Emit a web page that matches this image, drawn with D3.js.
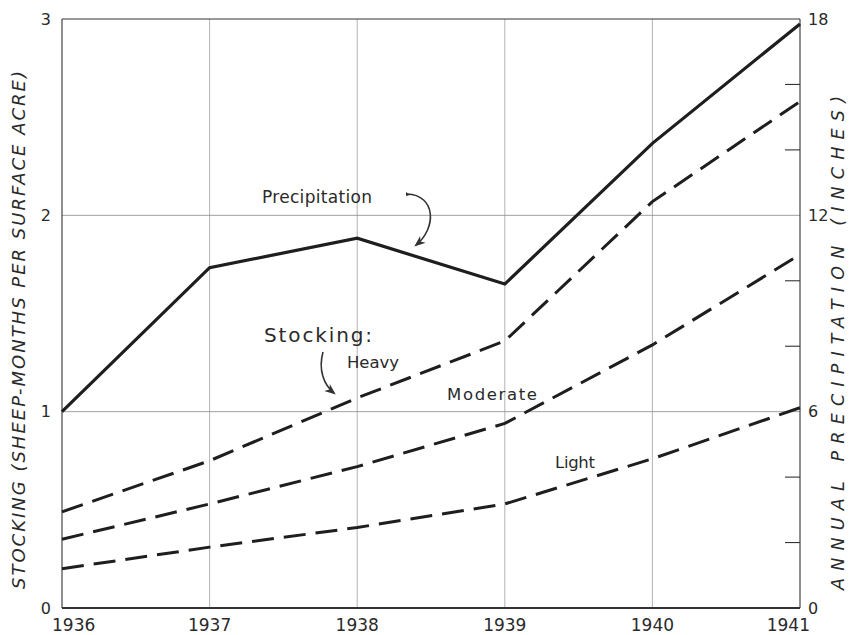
<!DOCTYPE html>
<html>
<head>
<meta charset="utf-8">
<script src="https://cdn.jsdelivr.net/npm/d3@7"></script>
<style>
  html, body { margin: 0; padding: 0; background: #fff; }
  svg text { font-family: "DejaVu Sans", "Open Sans", sans-serif; fill: #2a2a2a; }
</style>
</head>
<body>
<svg id="chart" width="850" height="635"></svg>
<script>
// ---- data ----
const years = [1936, 1937, 1938, 1939, 1940, 1941];
const precipitation = [6.0, 10.4, 11.3, 9.9, 14.2, 17.85];   // inches (right axis)
const heavy    = [0.49, 0.75, 1.07, 1.36, 2.07, 2.58];        // sheep-months per surface acre
const moderate = [0.35, 0.53, 0.72, 0.94, 1.34, 1.80];
const light    = [0.20, 0.31, 0.41, 0.53, 0.76, 1.02];
const leftTicks = [0, 1, 2, 3];
const rightLabelTicks = [0, 6, 12, 18];
const rightMinorTicks = [2, 4, 8, 10, 14, 16];

const svg = d3.select("#chart");
const m = { left: 62, right: 50, top: 19, bottom: 27 };
const W = 850, H = 635;

const x = d3.scaleLinear().domain([1936, 1941]).range([m.left, W - m.right]);
const yL = d3.scaleLinear().domain([0, 3]).range([H - m.bottom, m.top]);
const yR = d3.scaleLinear().domain([0, 18]).range([H - m.bottom, m.top]);

// gridlines
const grid = svg.append("g").attr("stroke", "#a0a0a0").attr("stroke-width", 0.8);
years.slice(1, -1).forEach(yr => {
  grid.append("line").attr("x1", x(yr)).attr("x2", x(yr))
    .attr("y1", yL(3)).attr("y2", yL(0));
});
[1, 2].forEach(v => {
  grid.append("line").attr("x1", x(1936)).attr("x2", x(1941))
    .attr("y1", yL(v)).attr("y2", yL(v)).attr("stroke", "#888");
});

// frame
const frame = svg.append("g").attr("stroke", "#333").attr("fill", "none");
frame.append("line").attr("x1", x(1936)).attr("x2", x(1941)).attr("y1", yL(3)).attr("y2", yL(3)).attr("stroke-width", 1.1);
frame.append("line").attr("x1", x(1936)).attr("x2", x(1941)).attr("y1", yL(0)).attr("y2", yL(0)).attr("stroke-width", 2);
frame.append("line").attr("x1", x(1936)).attr("x2", x(1936)).attr("y1", yL(3)).attr("y2", yL(0)).attr("stroke-width", 1.1);
frame.append("line").attr("x1", x(1941)).attr("x2", x(1941)).attr("y1", yL(3)).attr("y2", yL(0)).attr("stroke-width", 1.1);

// right minor ticks (inside)
rightMinorTicks.forEach(v => {
  frame.append("line").attr("x1", x(1941) - 15).attr("x2", x(1941))
    .attr("y1", yR(v)).attr("y2", yR(v)).attr("stroke-width", 1.1);
});

// tick labels
const tl = svg.append("g").style("font-size", "16px");
leftTicks.forEach(v => {
  tl.append("text").attr("x", x(1936) - 11).attr("y", yL(v)).attr("dy", "0.35em")
    .attr("text-anchor", "end").text(v);
});
rightLabelTicks.forEach(v => {
  tl.append("text").attr("x", x(1941) + 8).attr("y", yR(v)).attr("dy", "0.35em")
    .attr("text-anchor", "start").text(v);
});
years.forEach((yr, i) => {
  tl.append("text").attr("x", x(yr)).attr("y", H - 4)
    .attr("text-anchor", i === 0 ? "start" : (i === years.length - 1 ? "end" : "middle"))
    .attr("dx", i === 0 ? -10 : (i === years.length - 1 ? 10 : 0))
    .style("font-size", "17px")
    .text(yr);
});

// axis titles
svg.append("text")
  .attr("transform", `translate(19,330) rotate(-90)`)
  .attr("text-anchor", "middle").attr("dy", "0.35em")
  .attr("textLength", 518).attr("lengthAdjust", "spacing")
  .style("font-size", "18px").style("font-style", "italic")
  .text("STOCKING  (SHEEP-MONTHS PER SURFACE ACRE)");
svg.append("text")
  .attr("transform", `translate(838,343) rotate(-90)`)
  .attr("text-anchor", "middle").attr("dy", "0.35em")
  .attr("textLength", 494).attr("lengthAdjust", "spacing")
  .style("font-size", "17.5px").style("font-style", "italic")
  .text("ANNUAL  PRECIPITATION  (INCHES)");

// lines
const lineL = d3.line().x((d, i) => x(years[i])).y(d => yL(d));
const lineR = d3.line().x((d, i) => x(years[i])).y(d => yR(d));
const lines = svg.append("g").attr("fill", "none").attr("stroke", "#1e1e1e").attr("stroke-linejoin", "miter");
lines.append("path").attr("d", lineR(precipitation)).attr("stroke-width", 3.2);
[heavy, moderate, light].forEach(s => {
  lines.append("path").attr("d", lineL(s)).attr("stroke-width", 3)
    .attr("stroke-dasharray", "22 10");
});

// annotations
const ann = svg.append("g");
ann.append("text").attr("x", 262).attr("y", 203).attr("textLength", 110).attr("lengthAdjust", "spacing")
  .style("font-size", "17px").text("Precipitation");
ann.append("text").attr("x", 264).attr("y", 342).attr("textLength", 108).attr("lengthAdjust", "spacing")
  .style("font-size", "20px").text("Stocking:");
ann.append("text").attr("x", 347).attr("y", 368).attr("textLength", 52).attr("lengthAdjust", "spacing")
  .style("font-size", "16.5px").text("Heavy");
ann.append("text").attr("x", 447).attr("y", 400).attr("textLength", 90).attr("lengthAdjust", "spacing")
  .style("font-size", "16.5px").text("Moderate");
ann.append("text").attr("x", 555).attr("y", 468).attr("textLength", 40).attr("lengthAdjust", "spacing")
  .style("font-size", "16.5px").text("Light");

svg.append("defs").append("marker").attr("id", "ah")
  .attr("viewBox", "0 0 10 10").attr("refX", 8).attr("refY", 5)
  .attr("markerWidth", 7).attr("markerHeight", 7).attr("orient", "auto-start-reverse")
  .append("path").attr("d", "M0,1 L10,5 L0,9 L3,5 Z").attr("fill", "#333");

ann.append("path").attr("d", "M407,194 C436,195 437,228 416,245")
  .attr("fill", "none").attr("stroke", "#333").attr("stroke-width", 1.6).attr("marker-end", "url(#ah)");
ann.append("path").attr("d", "M406,192 l4,3 l-4,1 z").attr("fill", "#333");
ann.append("path").attr("d", "M323,352 C318,370 324,385 334,393")
  .attr("fill", "none").attr("stroke", "#333").attr("stroke-width", 1.6).attr("marker-end", "url(#ah)");
</script>
</body>
</html>
